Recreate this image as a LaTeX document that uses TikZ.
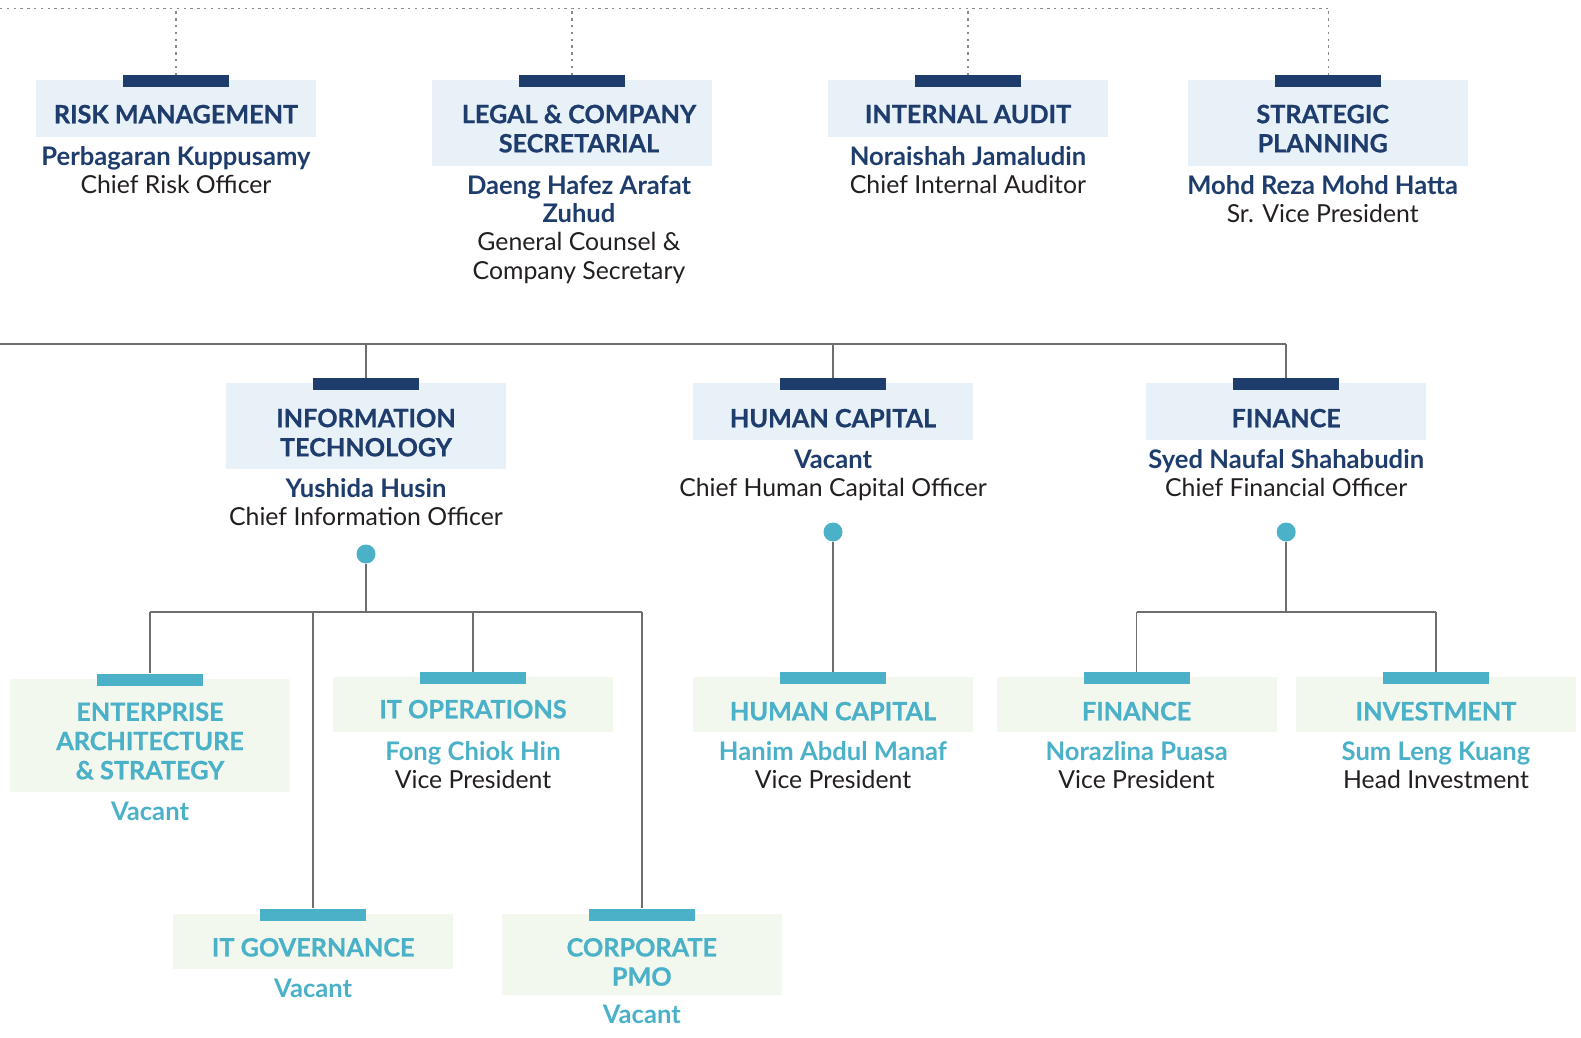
\documentclass[tikz,border=0pt]{standalone}
\usepackage{fontspec}
\setmainfont{Lato}
\newfontfamily\heavyfont{Lato}[BoldFeatures={FakeBold=0.7}]
\usetikzlibrary{positioning}

\definecolor{hdnavy}{HTML}{1E3D6C}
\definecolor{hdteal}{HTML}{4BB1C9}
\definecolor{paleblue}{HTML}{E8F0F8}
\definecolor{palegreen}{HTML}{F2F8EE}
\definecolor{linegray}{HTML}{6E6E70}
\definecolor{dotgray}{HTML}{8A8A8A}
\definecolor{ink}{HTML}{231F20}

\newcommand{\hdname}[1]{{\bfseries\fontsize{12.8}{14.2}\selectfont\color{hdnavy}#1}}
\newcommand{\subname}[1]{{\bfseries\fontsize{12.8}{14.2}\selectfont\color{hdteal}#1}}

\begin{document}
\begin{tikzpicture}[x=0.5pt, y=-0.5pt,
  hdbox/.style={fill=paleblue, minimum width=140pt, inner sep=0, anchor=north},
  subbox/.style={hdbox, fill=palegreen},
  hdbar/.style={fill=hdnavy, minimum width=53pt, minimum height=5.85pt, inner sep=0, anchor=north},
  subbar/.style={hdbar, fill=hdteal},
  hdtitle/.style={font=\heavyfont\bfseries\fontsize{12.6}{14.6}\selectfont, text=hdnavy, align=center, inner sep=0},
  subtitle/.style={hdtitle, text=hdteal},
  info/.style={font=\fontsize{12.4}{14.1}\selectfont, text=ink, align=center, inner sep=0, below=4.4pt of #1},
  conn/.style={draw=linegray, line width=0.85pt},
  dotconn/.style={draw=dotgray, line width=0.7pt, dash pattern=on 1.2pt off 2.2pt},
  knob/.style={circle, fill=hdteal, minimum size=9.5pt, inner sep=0}]
  \useasboundingbox (0,0) rectangle (1581,1038);

  % support units
  \node[hdbox, minimum height=28.35pt] (rm) at (176,80) {};
  \node[hdbar] (rmbar) at ([yshift=2.5pt]rm.north) {};
  \node[hdtitle] (rmtitle) at ([yshift=-2.7pt]rm.center) {RISK MANAGEMENT};
  \node[info=rm] (rminfo) {\hdname{Perbagaran Kuppusamy}\\Chief Risk Officer};

  \node[hdbox, minimum height=42.85pt] (lcs) at (572,80) {};
  \node[hdbar] (lcsbar) at ([yshift=2.5pt]lcs.north) {};
  \node[hdtitle] (lcstitle) at ([xshift=3.5pt, yshift=-2.7pt]lcs.center) {LEGAL \& COMPANY\\SECRETARIAL};
  \node[info=lcs, xshift=3.5pt] (lcsinfo) {\hdname{Daeng Hafez Arafat}\\\hdname{Zuhud}\\General Counsel \&\\Company Secretary};

  \node[hdbox, minimum height=28.35pt] (ia) at (968,80) {};
  \node[hdbar] (iabar) at ([yshift=2.5pt]ia.north) {};
  \node[hdtitle] (iatitle) at ([yshift=-2.7pt]ia.center) {INTERNAL AUDIT};
  \node[info=ia] (iainfo) {\hdname{Noraishah Jamaludin}\\Chief Internal Auditor};

  \node[hdbox, minimum height=42.85pt] (sp) at (1328.3,80) {};
  \node[hdbar] (spbar) at ([yshift=2.5pt]sp.north) {};
  \node[hdtitle] (sptitle) at ([xshift=-2.8pt, yshift=-2.7pt]sp.center) {STRATEGIC\\PLANNING};
  \node[info=sp, xshift=-2.8pt] (spinfo) {\hdname{Mohd Reza Mohd Hatta}\\Sr. Vice President};

  % chief officers
  \node[hdbox, minimum height=42.85pt] (it) at (366,383) {};
  \node[hdbar] (itbar) at ([yshift=2.5pt]it.north) {};
  \node[hdtitle] (ittitle) at ([yshift=-3.2pt]it.center) {INFORMATION\\TECHNOLOGY};
  \node[info=it] (itinfo) {\hdname{Yushida Husin}\\Chief Information Officer};
  \node[knob] (itdot) at (366,554) {};

  \node[hdbox, minimum height=28.35pt] (hc) at (833,383) {};
  \node[hdbar] (hcbar) at ([yshift=2.5pt]hc.north) {};
  \node[hdtitle] (hctitle) at ([yshift=-3.2pt]hc.center) {HUMAN CAPITAL};
  \node[info=hc] (hcinfo) {\hdname{Vacant}\\Chief Human Capital Officer};
  \node[knob] (hcdot) at (833,532) {};

  \node[hdbox, minimum height=28.35pt] (fin) at (1286.2,383) {};
  \node[hdbar] (finbar) at ([yshift=2.5pt]fin.north) {};
  \node[hdtitle] (fintitle) at ([yshift=-3.2pt]fin.center) {FINANCE};
  \node[info=fin] (fininfo) {\hdname{Syed Naufal Shahabudin}\\Chief Financial Officer};
  \node[knob] (findot) at (1286.2,532) {};

  % departments
  \node[subbox, minimum height=56.35pt] (ea) at (150,679) {};
  \node[subbar] (eabar) at ([yshift=2.8pt]ea.north) {};
  \node[subtitle] (eatitle) at ([yshift=-2.6pt]ea.center) {ENTERPRISE\\ARCHITECTURE\\\& STRATEGY};
  \node[info=ea] (eainfo) {\subname{Vacant}};

  \node[subbox, minimum height=27.35pt] (ops) at (473,677) {};
  \node[subbar] (opsbar) at ([yshift=2.5pt]ops.north) {};
  \node[subtitle] (opstitle) at ([yshift=-2.2pt]ops.center) {IT OPERATIONS};
  \node[info=ops] (opsinfo) {\subname{Fong Chiok Hin}\\Vice President};

  \node[subbox, minimum height=27.35pt] (gov) at (313.2,914) {};
  \node[subbar] (govbar) at ([yshift=2.8pt]gov.north) {};
  \node[subtitle] (govtitle) at ([yshift=-2.8pt]gov.center) {IT GOVERNANCE};
  \node[info=gov] (govinfo) {\subname{Vacant}};

  \node[subbox, minimum height=40.35pt] (pmo) at (641.8,914) {};
  \node[subbar] (pmobar) at ([yshift=2.8pt]pmo.north) {};
  \node[subtitle] (pmotitle) at ([yshift=-3.6pt]pmo.center) {CORPORATE\\PMO};
  \node[info=pmo] (pmoinfo) {\subname{Vacant}};

  \node[subbox, minimum height=27.35pt] (hc2) at (833,677) {};
  \node[subbar] (hc2bar) at ([yshift=2.5pt]hc2.north) {};
  \node[subtitle] (hc2title) at ([yshift=-3.2pt]hc2.center) {HUMAN CAPITAL};
  \node[info=hc2] (hc2info) {\subname{Hanim Abdul Manaf}\\Vice President};

  \node[subbox, minimum height=27.35pt] (fin2) at (1136.6,677) {};
  \node[subbar] (fin2bar) at ([yshift=2.5pt]fin2.north) {};
  \node[subtitle] (fin2title) at ([yshift=-3.2pt]fin2.center) {FINANCE};
  \node[info=fin2] (fin2info) {\subname{Norazlina Puasa}\\Vice President};

  \node[subbox, minimum height=27.35pt] (inv) at (1436,677) {};
  \node[subbar] (invbar) at ([yshift=2.5pt]inv.north) {};
  \node[subtitle] (invtitle) at ([yshift=-3.2pt]inv.center) {INVESTMENT};
  \node[info=inv] (invinfo) {\subname{Sum Leng Kuang}\\Head Investment};

  % connectors
  \coordinate (dotrow) at (0,8.3);
  \coordinate (midrow) at (0,344);
  \coordinate (itrow) at (0,611.7);
  \coordinate (finrow) at (0,611.7);

  \draw[dotconn] (dotrow) -- (spbar.north |- dotrow);
  \draw[dotconn] (rmbar.north) -- (rmbar.north |- dotrow);
  \draw[dotconn] (lcsbar.north) -- (lcsbar.north |- dotrow);
  \draw[dotconn] (iabar.north) -- (iabar.north |- dotrow);
  \draw[dotconn] (spbar.north) -- (spbar.north |- dotrow);

  \draw[conn] (midrow) -- (finbar.north |- midrow);
  \draw[conn] (itbar.north) -- (itbar.north |- midrow);
  \draw[conn] (hcbar.north) -- (hcbar.north |- midrow);
  \draw[conn] (finbar.north) -- (finbar.north |- midrow);

  \draw[conn] (itdot.south) -- (itdot |- itrow);
  \draw[conn] (eabar.north |- itrow) -- (pmobar.north |- itrow);
  \draw[conn] (eabar.north) -- (eabar.north |- itrow);
  \draw[conn] (govbar.north) -- (govbar.north |- itrow);
  \draw[conn] (opsbar.north) -- (opsbar.north |- itrow);
  \draw[conn] (pmobar.north) -- (pmobar.north |- itrow);

  \draw[conn] (hcdot.south) -- (hc2bar.north);

  \draw[conn] (findot.south) -- (findot |- finrow);
  \draw[conn] (fin2bar.north |- finrow) -- (invbar.north |- finrow);
  \draw[conn] (fin2bar.north) -- (fin2bar.north |- finrow);
  \draw[conn] (invbar.north) -- (invbar.north |- finrow);
\end{tikzpicture}
\end{document}
